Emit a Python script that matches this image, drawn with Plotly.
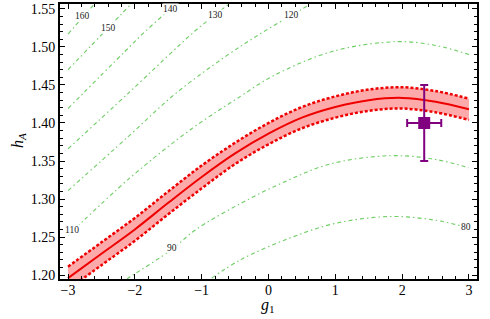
import plotly.graph_objects as go

# ---------------- data ----------------
g1 = [-3.0, -2.5, -2.0, -1.5, -1.0, -0.5, 0.0, 0.5, 1.0, 1.5, 2.0, 2.5, 3.0]
h_center = [1.196, 1.228, 1.260, 1.295, 1.329, 1.360, 1.386, 1.407, 1.421, 1.430, 1.433, 1.428, 1.418]
h_upper = [1.211, 1.243, 1.275, 1.310, 1.344, 1.374, 1.400, 1.421, 1.435, 1.444, 1.447, 1.442, 1.432]
h_lower = [1.181, 1.213, 1.245, 1.280, 1.314, 1.346, 1.372, 1.393, 1.407, 1.416, 1.419, 1.414, 1.404]

c80_x = [-0.85, -0.42, 0.3, 1.0, 1.82, 2.5, 3.0]
c80_y = [1.196, 1.220, 1.248, 1.268, 1.277, 1.272, 1.262]
c90_x = [-2.12, -2.03, -1.44, -1.1, -0.42, 0.25, 0.92, 1.82, 2.5, 3.0]
c90_y = [1.195, 1.200, 1.234, 1.259, 1.294, 1.323, 1.346, 1.357, 1.352, 1.341]
c110_x = [-3.0, -2.07, -1.14, -0.42, 0.05, 0.95, 1.93, 2.5, 3.0]
c110_y = [1.252, 1.328, 1.393, 1.435, 1.461, 1.494, 1.507, 1.502, 1.490]
c120_x = [-3.0, -2.1, -1.4, -0.65, -0.13, 0.35, 0.6]
c120_y = [1.311, 1.382, 1.438, 1.487, 1.517, 1.542, 1.555]
c130_x = [-3.0, -2.1, -1.1, -0.8, -0.6]
c130_y = [1.366, 1.439, 1.521, 1.542, 1.556]
c140_x = [-3.0, -2.15, -1.85, -1.47, -1.4]
c140_y = [1.419, 1.494, 1.520, 1.550, 1.556]
c150_x = [-3.0, -2.39, -2.05]
c150_y = [1.470, 1.526, 1.557]
c160_x = [-3.0, -2.78, -2.6]
c160_y = [1.517, 1.539, 1.557]

contour_levels = ["80", "90", "110", "120", "130", "140", "150", "160"]
label_x = [2.96, -1.44, -2.94, 0.35, -0.80, -1.47, -2.39, -2.78]
label_y = [1.263, 1.236, 1.259, 1.542, 1.542, 1.550, 1.525, 1.541]

point_x = [2.33]
point_y = [1.40]
point_ex = [0.255]
point_ey = [0.05]

x_ticks = [-3, -2, -1, 0, 1, 2, 3]
y_ticks = [1.20, 1.25, 1.30, 1.35, 1.40, 1.45, 1.50, 1.55]

# ---------------- figure ----------------
FONT = "Liberation Serif"
GREEN = "rgb(110,205,100)"
fig = go.Figure()

contours = [(c80_x, c80_y), (c90_x, c90_y), (c110_x, c110_y), (c120_x, c120_y),
            (c130_x, c130_y), (c140_x, c140_y), (c150_x, c150_y), (c160_x, c160_y)]
for cx, cy in contours:
    fig.add_trace(go.Scatter(x=cx, y=cy, mode="lines", line_shape="spline",
                             line=dict(color=GREEN, width=1.1, dash="4px,3px,1.5px,3px"),
                             hoverinfo="skip", showlegend=False))

# band
fig.add_trace(go.Scatter(x=g1, y=h_lower, mode="lines", line_shape="spline",
                         line=dict(color="rgba(0,0,0,0)", width=0), showlegend=False))
fig.add_trace(go.Scatter(x=g1, y=h_upper, mode="lines", line_shape="spline",
                         line=dict(color="rgba(0,0,0,0)", width=0), fill="tonexty",
                         fillcolor="rgb(255,170,170)", showlegend=False))
for hy in (h_upper, h_lower):
    fig.add_trace(go.Scatter(x=g1, y=hy, mode="lines", line_shape="spline",
                             line=dict(color="rgb(238,0,0)", width=2.5, dash="3px,2px"),
                             showlegend=False))
fig.add_trace(go.Scatter(x=g1, y=h_center, mode="lines", line_shape="spline",
                         line=dict(color="rgb(238,0,0)", width=2), showlegend=False))

fig.add_trace(go.Scatter(x=point_x, y=point_y, mode="markers",
                         marker=dict(symbol="square", size=12, color="rgb(128,0,128)"),
                         error_x=dict(type="data", array=point_ex, color="rgb(128,0,128)",
                                      thickness=2, width=4),
                         error_y=dict(type="data", array=point_ey, color="rgb(128,0,128)",
                                      thickness=2, width=4),
                         showlegend=False))

annotations = []
for lab, lx, ly in zip(contour_levels, label_x, label_y):
    annotations.append(dict(x=lx, y=ly, xref="x", yref="y", text=lab, showarrow=False,
                            font=dict(family=FONT, size=9.5, color="#222222"),
                            bgcolor="white", borderpad=0))

W, H = 490, 319
ml, mr, mt, mb = 60, 13, 2, 40
pw, ph = W - ml - mr, H - mt - mb


def px_to_paper(px, py):
    return (px - ml) / pw, 1 - (py - mt) / ph


tx, ty = px_to_paper(268, 306)
annotations.append(dict(x=tx, y=ty, xref="paper", yref="paper", text="<i>g</i><sub>1</sub>",
                        showarrow=False, xanchor="center", yanchor="middle",
                        font=dict(family=FONT, size=16, color="black")))
tx, ty = px_to_paper(18, 140)
annotations.append(dict(x=tx, y=ty, xref="paper", yref="paper", text="<i>h</i><sub><i>A</i></sub>",
                        showarrow=False, textangle=-90, xanchor="center", yanchor="middle",
                        font=dict(family=FONT, size=16, color="black")))

axis_common = dict(showline=True, linecolor="black", linewidth=2, mirror="allticks",
                   ticks="inside", ticklen=5, tickwidth=1.2, tickcolor="black",
                   showgrid=False, zeroline=False,
                   tickfont=dict(family=FONT, size=14, color="black"))
fig.update_xaxes(range=[-3.12, 3.12], tickvals=x_ticks, ticklabelstandoff=-3,
                 minor=dict(dtick=0.2, tick0=0, ticks="inside", ticklen=3, tickwidth=1, tickcolor="black"),
                 **axis_common)
fig.update_yaxes(range=[1.1948, 1.5565], tickvals=y_ticks, tickformat=".2f",
                 minor=dict(dtick=0.01, tick0=1.2, ticks="inside", ticklen=3, tickwidth=1, tickcolor="black"),
                 **axis_common)
fig.update_layout(width=W, height=H, margin=dict(l=ml, r=mr, t=mt, b=mb),
                  plot_bgcolor="white", paper_bgcolor="white",
                  annotations=annotations, showlegend=False)
fig.write_html("out.html", config={"displayModeBar": False},
               post_script="document.body.style.margin='0px';")
